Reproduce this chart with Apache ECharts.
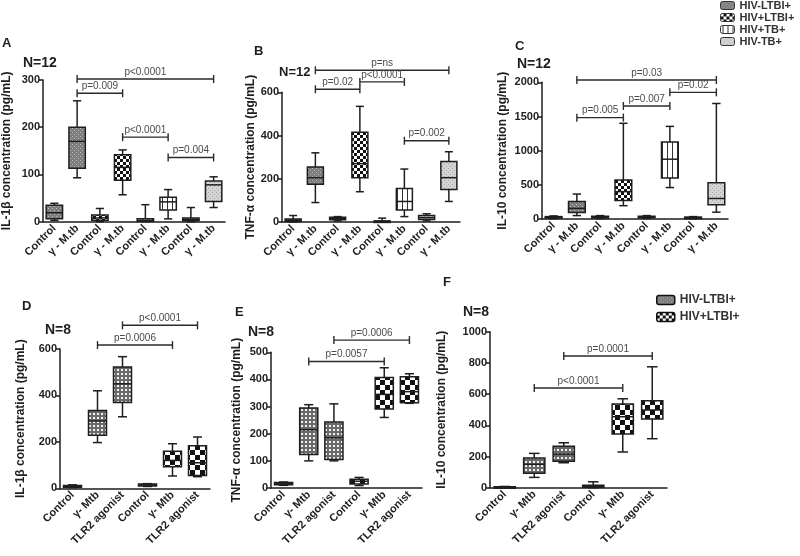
<!DOCTYPE html>
<html><head><meta charset="utf-8">
<script src="https://cdn.jsdelivr.net/npm/echarts@6/dist/echarts.min.js"></script>
<style>html,body{margin:0;padding:0;background:#fff}#c{width:800px;height:556px}</style>
</head><body><div id="c"></div><script>
// ---------- DATA ----------
const topCats = ['Control','γ - M.tb','Control','γ - M.tb','Control','γ - M.tb','Control','γ - M.tb'];
const botCats = ['Control','γ- Mtb','TLR2 agonist','Control','γ- Mtb','TLR2 agonist'];
const groupsTop = ['HIV-LTBI+','HIV+LTBI+','HIV+TB+','HIV-TB+'];
const groupsBot = ['HIV-LTBI+','HIV+LTBI+'];

// boxes: [min, q1, median, q3, max] per category
const A_IL1b = [[3,6,19,35,39],[93,113,170,200,256],[0,3,8,14,28],[57,88,115,142,152],[0,1,3,6,36],[6,25,42,52,68],[0,2,5,8,30],[30,43,78,86,95]];
const B_TNFa = [[0,2,8,14,30],[90,175,205,255,320],[5,10,15,22,25],[140,205,270,415,535],[0,1,3,5,18],[25,55,95,155,245],[5,12,20,30,38],[95,150,205,280,325]];
const C_IL10 = [[5,15,25,35,45],[50,95,155,255,365],[5,15,25,40,50],[195,270,400,570,1400],[10,20,30,40,50],[460,600,875,1125,1355],[5,12,20,28,35],[100,210,300,530,1690]];
const D_IL1b = [[3,5,8,12,15],[197,228,290,335,420],[308,370,450,522,567],[8,10,14,18,20],[53,93,120,160,192],[50,55,110,183,221]];
const E_TNFa = [[10,12,15,20,22],[100,123,215,295,307],[100,105,185,243,310],[9,15,25,32,39],[260,291,345,407,443],[312,314,355,410,421]];
const F_IL10 = [[0,2,4,6,8],[66,92,150,190,220],[160,170,215,265,288],[0,3,8,15,38],[229,344,455,537,570],[314,440,498,558,775]];

// significance brackets: [fromCategory, toCategory, yValue, label]
const A_brackets = [[1,7,302,'p<0.0001'],[1,3,272,'p=0.009'],[3,5,179,'p<0.0001'],[5,7,136,'p=0.004']];
const B_brackets = [[1,7,702,'p=ns'],[1,3,614,'p=0.02'],[3,5,648,'p<0.0001'],[5,7,376,'p=0.002']];
const C_brackets = [[1,7,2034,'p=0.03'],[5,7,1853,'p=0.02'],[3,5,1654,'p=0.007'],[1,3,1483,'p=0.005']];
const D_brackets = [[1,4,617,'p=0.0006'],[2,5,702,'p<0.0001']];
const E_brackets = [[2,5,545,'p=0.0006'],[1,4,466,'p=0.0057']];
const F_brackets = [[2,5,844,'p=0.0001'],[1,4,639,'p<0.0001']];

// ---------- PATTERNS ----------
function mkPattern(size, draw){const c=document.createElement('canvas');c.width=c.height=size;const g=c.getContext('2d');draw(g,size);return {image:c,repeat:'repeat'};}
const patDarkDots = mkPattern(4,g=>{g.fillStyle='#7d7d7d';g.fillRect(0,0,4,4);g.fillStyle='#bcbcbc';g.fillRect(0,0,1,1);g.fillRect(2,2,1,1);});
const patChecker = mkPattern(6,g=>{g.fillStyle='#111';g.fillRect(0,0,6,6);g.fillStyle='#fff';g.fillRect(0,0,3,3);g.fillRect(3,3,3,3);});
const patVert = mkPattern(5,g=>{g.fillStyle='#fff';g.fillRect(0,0,5,5);g.fillStyle='#333';g.fillRect(2,0,1,5);});
const patLight = mkPattern(4,g=>{g.fillStyle='#d4d4d4';g.fillRect(0,0,4,4);g.fillStyle='#a6a6a6';g.fillRect(0,0,1,1);g.fillRect(2,2,1,1);});
const patGrid = mkPattern(4,g=>{g.fillStyle='#6a6a6a';g.fillRect(0,0,4,4);g.fillStyle='#f2f2f2';g.fillRect(1,1,2,2);});
const patCheckBig = mkPattern(10,g=>{g.fillStyle='#fff';g.fillRect(0,0,10,10);g.fillStyle='#111';g.fillRect(0,0,5,5);g.fillRect(5,5,5,5);});
const topPats = [patDarkDots, patChecker, patVert, patLight];
const botPats = [patGrid, patCheckBig];

// ---------- LAYOUT ----------
const FONT = 'Liberation Sans, Arial, sans-serif';
const INK = '#1e1e1e';
const panels = [
  {g:{left:40,top:80,width:185,height:141.7}, cats:topCats, max:300, interval:100, name:'IL-1β concentration (pg/mL)', gap:30, box:A_IL1b, br:A_brackets, per:2, pats:topPats, groups:groupsTop},
  {g:{left:282,top:92.3,width:178,height:129.7}, cats:topCats, max:600, interval:200, name:'TNF-α concentration (pg/mL)', gap:24, box:B_TNFa, br:B_brackets, per:2, pats:topPats, groups:groupsTop},
  {g:{left:542,top:82.3,width:186,height:136.7}, cats:topCats, max:2000, interval:500, name:'IL-10 concentration (pg/mL)', gap:33, box:C_IL10, br:C_brackets, per:2, pats:topPats, groups:groupsTop},
  {g:{left:60,top:349,width:150,height:139.3}, cats:botCats, max:600, interval:200, name:'IL-1β concentration (pg/mL)', gap:33, box:D_IL1b, br:D_brackets, per:3, pats:botPats, groups:groupsBot},
  {g:{left:271,top:352.3,width:151,height:135.7}, cats:botCats, max:500, interval:100, name:'TNF-α concentration (pg/mL)', gap:28, box:E_TNFa, br:E_brackets, per:3, pats:botPats, groups:groupsBot},
  {g:{left:490,top:331.7,width:177,height:156}, cats:botCats, max:1000, interval:200, name:'IL-10 concentration (pg/mL)', gap:42, box:F_IL10, br:F_brackets, per:3, pats:botPats, groups:groupsBot}
];
const titles = [
  ['A',2,37,13],['N=12',23,56,14],['B',254,45,13],['N=12',279,66,13],['C',515,40,13],['N=12',517,57,14],
  ['D',22,300,13],['N=8',45,323,14],['E',235,306,13],['N=8',248,325,14],['F',443,276,13],['N=8',463,305,14]
];

function boxRender(pattern){
  return function(params, api){
    const x = api.value(0);
    const pMin = api.coord([x, api.value(1)]);
    const pQ1 = api.coord([x, api.value(2)]);
    const pMed = api.coord([x, api.value(3)]);
    const pQ3 = api.coord([x, api.value(4)]);
    const pMax = api.coord([x, api.value(5)]);
    const band = api.size([1,0])[0];
    const w = band*0.72, cw = w*0.5, cx = pMin[0];
    const ls = {stroke:INK, lineWidth:1.5};
    return {type:'group', children:[
      {type:'line', shape:{x1:cx,y1:pMax[1],x2:cx,y2:pQ3[1]}, style:ls},
      {type:'line', shape:{x1:cx,y1:pQ1[1],x2:cx,y2:pMin[1]}, style:ls},
      {type:'line', shape:{x1:cx-cw/2,y1:pMax[1],x2:cx+cw/2,y2:pMax[1]}, style:ls},
      {type:'line', shape:{x1:cx-cw/2,y1:pMin[1],x2:cx+cw/2,y2:pMin[1]}, style:ls},
      {type:'rect', shape:{x:cx-w/2,y:pQ3[1],width:w,height:Math.max(pQ1[1]-pQ3[1],1.5)}, style:{fill:pattern, stroke:INK, lineWidth:1.5}},
      {type:'line', shape:{x1:cx-w/2,y1:pMed[1],x2:cx+w/2,y2:pMed[1]}, style:ls}
    ]};
  };
}
function bracketRender(list){
  return function(params, api){
    const p1 = api.coord([api.value(0), api.value(2)]);
    const p2 = api.coord([api.value(1), api.value(2)]);
    const ls = {stroke:'#2a2a2a', lineWidth:1.4};
    return {type:'group', children:[
      {type:'line', shape:{x1:p1[0],y1:p1[1],x2:p2[0],y2:p2[1]}, style:ls},
      {type:'line', shape:{x1:p1[0],y1:p1[1]-4,x2:p1[0],y2:p1[1]+4}, style:ls},
      {type:'line', shape:{x1:p2[0],y1:p2[1]-4,x2:p2[0],y2:p2[1]+4}, style:ls},
      {type:'text', style:{text:list[params.dataIndex][3], x:(p1[0]+p2[0])/2, y:p1[1]-2, align:'center', verticalAlign:'bottom', fill:'#4a4a55', font:'10px '+FONT}}
    ]};
  };
}

const grid=[], xAxis=[], yAxis=[], series=[];
panels.forEach((p,i)=>{
  grid.push(Object.assign({containLabel:false}, p.g));
  xAxis.push({gridIndex:i, type:'category', data:p.cats,
    axisLine:{lineStyle:{color:INK,width:1.5}},
    axisTick:{alignWithLabel:true,length:4,lineStyle:{color:INK,width:1.5}},
    axisLabel:{rotate:45,interval:0,fontSize:11,fontWeight:'bold',color:INK,margin:5,fontFamily:FONT},
    splitLine:{show:false}});
  yAxis.push({gridIndex:i, type:'value', min:0, max:p.max, interval:p.interval,
    name:p.name, nameLocation:'middle', nameGap:p.gap,
    nameTextStyle:{fontSize:12,fontWeight:'bold',color:INK,fontFamily:FONT},
    axisLine:{show:true,lineStyle:{color:INK,width:1.5}},
    axisTick:{show:true,length:4,lineStyle:{color:INK,width:1.5}},
    axisLabel:{fontSize:11,fontWeight:'bold',color:INK,margin:3,fontFamily:FONT,formatter:v=>String(v)},
    splitLine:{show:false}});
  p.groups.forEach((gname,gi)=>{
    const data=[];
    for(let k=gi*p.per;k<(gi+1)*p.per;k++) data.push([k].concat(p.box[k]));
    series.push({type:'custom', name:gname, xAxisIndex:i, yAxisIndex:i, clip:false,
      itemStyle:{color:p.pats[gi], borderColor:INK, borderWidth:1},
      encode:{x:0,y:[1,2,3,4,5]}, data:data, renderItem:boxRender(p.pats[gi]), silent:true});
  });
  series.push({type:'custom', name:'brackets'+i, xAxisIndex:i, yAxisIndex:i, clip:false, silent:true,
    encode:{x:[0,1],y:2}, data:p.br.map(b=>[b[0],b[1],b[2]]), renderItem:bracketRender(p.br), z:5});
});

const option = {
  animation:false,
  textStyle:{fontFamily:FONT},
  title: titles.map(t=>({text:t[0], left:t[1], top:t[2], padding:0, textStyle:{fontSize:t[3],fontWeight:'bold',color:INK,fontFamily:FONT}})),
  legend:[
    {data:groupsTop, orient:'vertical', left:720, top:0, itemWidth:14, itemHeight:8, itemGap:1, padding:0,
      textStyle:{fontSize:11,fontWeight:'bold',color:'#333',fontFamily:FONT}, itemStyle:{borderColor:'#333',borderWidth:1}},
    {data:groupsBot, orient:'vertical', left:656, top:294, itemWidth:18, itemHeight:9, itemGap:5, padding:0,
      textStyle:{fontSize:12,fontWeight:'bold',color:'#333',fontFamily:FONT}, itemStyle:{borderColor:'#111',borderWidth:1.5}}
  ],
  grid, xAxis, yAxis, series
};
const chart = echarts.init(document.getElementById('c'), null, {renderer:'canvas'});
chart.setOption(option);
</script></body></html>
